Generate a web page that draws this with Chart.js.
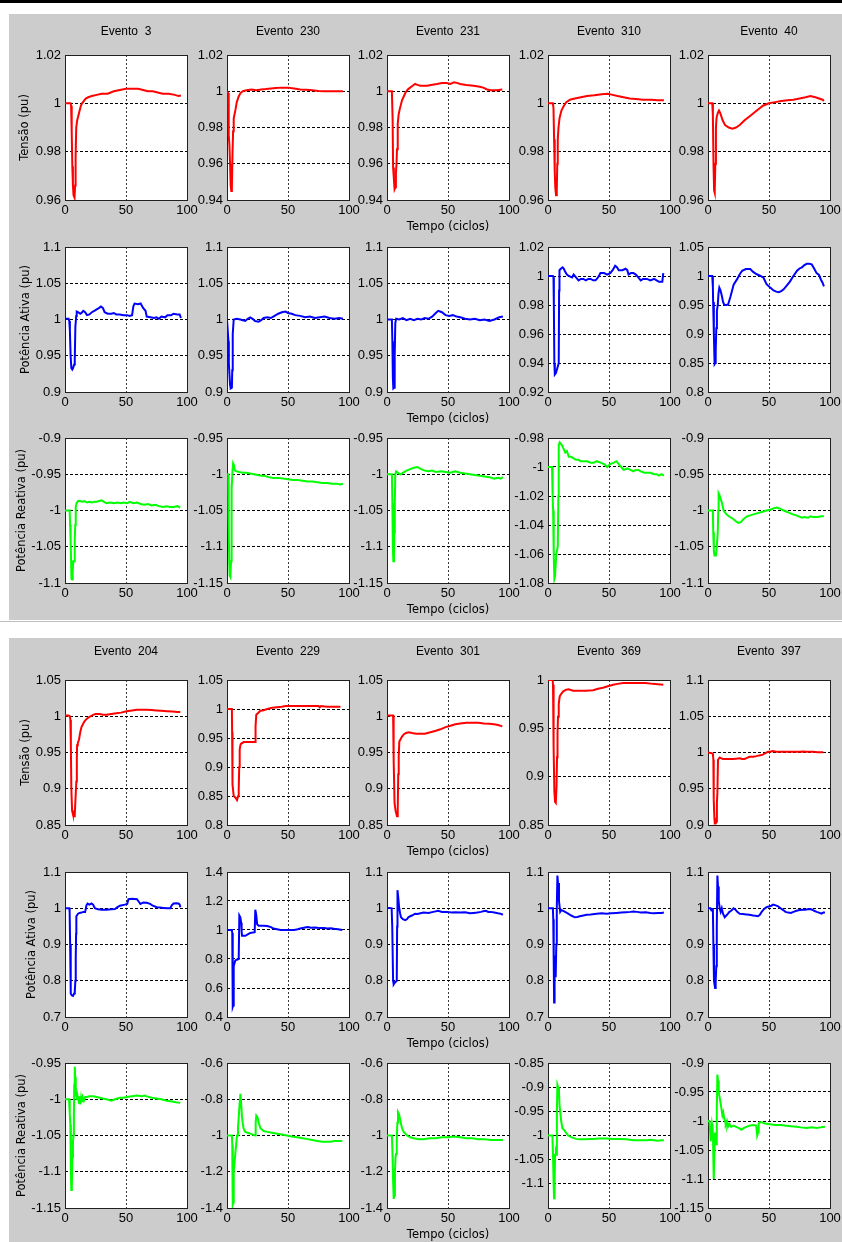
<!DOCTYPE html>
<html>
<head>
<meta charset="utf-8">
<script src="https://cdn.jsdelivr.net/npm/chart.js@4.4.0/dist/chart.umd.min.js"></script>
<style>
body { margin: 0; background: #fff; width: 842px; height: 1242px; position: relative; overflow: hidden; }
.faixa { position: absolute; background: #cccccc; }
canvas { position: absolute; }
</style>
</head>
<body>
<div style="position:absolute;left:0;top:0;width:842px;height:3px;background:#000"></div>
<div class="faixa" style="left:9px;top:14px;width:833px;height:606px"></div>
<div style="position:absolute;left:0;top:621px;width:842px;height:1px;background:#bdbdbd"></div>
<div class="faixa" style="left:9px;top:638px;width:833px;height:604px"></div>
<script>
// eventos de cada figura
var eventos1 = ['3', '230', '231', '310', '40'];
var eventos2 = ['204', '229', '301', '369', '397'];

// ---- figura 1: tensao (v), potencia ativa (p), potencia reativa (q) ----
var v3 = [[0,1],[4.5,1],[5,0.999],[5.5,0.988],[6,0.974],[6.5,0.966],[7,0.962],[7.8,0.961],[8.3,0.966],[8.7,0.978],[9.2,0.99],[10,0.993],[11,0.995],[12,0.997],[13,0.999],[14,1],[15.5,1.001],[17,1.002],[19,1.0025],[22,1.003],[26,1.0035],[30,1.004],[35,1.004],[40,1.005],[45,1.0055],[50,1.006],[55,1.006],[60,1.006],[64,1.0055],[68,1.005],[72,1.005],[76,1.0045],[80,1.004],[85,1.004],[90,1.0035],[93,1.003],[95,1.0032]];
var v230 = [[0,1],[1,0.999],[1.4,0.976],[2,0.97],[2.5,0.96],[3,0.948],[3.5,0.945],[4,0.947],[4.5,0.965],[5,0.978],[5.5,0.985],[7,0.99],[8,0.994],[9.5,0.997],[11,0.999],[13,1],[16,1.0005],[20,1.001],[24,1.0005],[28,1.001],[32,1.0012],[36,1.0015],[40,1.0018],[45,1.002],[50,1.002],[55,1.0015],[60,1.001],[65,1.0008],[70,1.0005],[75,1.0002],[80,1],[85,1],[90,1],[95,1]];
var v231 = [[0,1],[4,1],[4.6,0.985],[5,0.958],[5.6,0.952],[6.2,0.946],[6.8,0.947],[7.3,0.955],[7.8,0.96],[8.2,0.968],[8.8,0.982],[9.5,0.987],[10.4,0.99],[12.3,0.995],[15,0.999],[17,1.001],[19,1.002],[21,1.003],[23,1.004],[25,1.0035],[27.4,1.003],[30,1.003],[33,1.003],[36,1.0035],[41,1.004],[45,1.0045],[49,1.0045],[52,1.004],[55,1.005],[58,1.0045],[60,1.004],[65,1.0035],[71,1.003],[76,1.0025],[79,1.002],[82,1.001],[85,1.0005],[90,1.0005],[94.5,1.001]];
var v310 = [[0,1],[4,1],[4.5,0.998],[5,0.985],[5.5,0.972],[6,0.965],[6.6,0.962],[7.2,0.964],[7.6,0.975],[8,0.985],[8.6,0.99],[9.5,0.994],[11,0.997],[13,0.999],[15,1.0005],[18,1.0015],[22,1.002],[27,1.0025],[32,1.003],[38,1.0033],[44,1.0038],[49,1.004],[53,1.0035],[57,1.003],[62,1.0025],[67,1.002],[72,1.0018],[78,1.0015],[85,1.0015],[90,1.0013],[95,1.0013]];
var v40 = [[0,1],[3.5,1],[4,0.995],[4.5,0.975],[5,0.964],[5.5,0.963],[6,0.975],[6.5,0.99],[7,0.994],[8,0.996],[9,0.997],[10,0.996],[12,0.993],[14,0.991],[17,0.99],[20,0.9895],[23,0.99],[26,0.991],[30,0.993],[35,0.995],[40,0.997],[45,0.999],[50,1],[55,1.0005],[60,1.001],[65,1.0013],[70,1.0015],[75,1.002],[80,1.0025],[84,1.003],[88,1.0025],[91,1.002],[94,1.0015],[95,1.001]];

var p3 = [[0,1.001],[3,1.001],[3.5,0.998],[4,0.985],[4.6,0.95],[5.2,0.933],[6,0.931],[6.6,0.933],[7.5,0.938],[8,0.945],[8.5,0.99],[9.2,1.005],[9.6,1.011],[11,1.01],[12.5,1.008],[13.5,1.009],[15,1.012],[16.5,1.01],[18,1.006],[20,1.007],[22,1.01],[24,1.012],[26,1.014],[28,1.016],[29.5,1.018],[31,1.016],[32.5,1.01],[35,1.008],[38,1.008],[40,1.009],[42,1.007],[45,1.007],[48,1.006],[51,1.006],[53,1.005],[55,1.006],[56,1.018],[57,1.022],[60,1.021],[62,1.022],[64,1.016],[66,1.012],[67,1.004],[70,1.003],[73,1.002],[75,1.003],[77,1.001],[79,1.004],[82,1.003],[84,1.006],[87,1.006],[89,1.008],[92,1.007],[94,1.007],[95,1.002]];
var p230 = [[0,1],[0.8,1],[1.2,0.97],[1.5,0.94],[2,0.925],[2.5,0.91],[3,0.905],[4,0.906],[4.3,0.93],[4.7,0.98],[5.5,1.0],[8,1.001],[11,1],[13,0.999],[15,0.998],[17,1.001],[19,1.003],[21,1.001],[23,0.998],[26,0.997],[28,0.999],[30,1.002],[33,1.003],[36,1.002],[39,1.005],[42,1.008],[45,1.01],[48,1.011],[50,1.009],[53,1.008],[56,1.006],[60,1.005],[64,1.003],[68,1.004],[72,1.002],[76,1.003],[80,1.004],[84,1.002],[88,1.001],[92,1.002],[95,1.001]];
var p231 = [[0,1],[4,1],[4.4,0.97],[4.8,0.92],[5.2,0.905],[5.8,0.906],[6.3,0.95],[6.8,0.995],[7.5,1.001],[10,1.0],[13,1.002],[16,0.999],[19,1.001],[22,0.999],[25,1.001],[28,1.0],[31,1.002],[34,1.001],[37,1.004],[40,1.009],[42,1.012],[45,1.01],[48,1.006],[51,1.005],[54,1.006],[57,1.004],[60,1.003],[64,1.001],[68,1.0],[72,1.001],[76,0.999],[80,1.0],[84,0.998],[88,1.0],[92,1.003],[95,1.004]];
var p310 = [[0,1],[4,1],[4.5,0.999],[4.8,0.98],[5.2,0.94],[5.6,0.932],[6.5,0.933],[7.5,0.936],[8.8,0.94],[9.1,0.99],[9.4,1.004],[10.5,1.005],[12,1.006],[13,1.005],[14,1.003],[15.5,1.001],[17,1.0],[19.7,0.999],[21,1.001],[23,0.999],[25,0.997],[27,0.998],[29,0.998],[31,0.997],[33,0.998],[35,0.998],[37,0.997],[39,0.997],[41,0.999],[43,1.002],[46,1.002],[48.5,1.001],[51,1.002],[53,1.004],[55,1.007],[56.5,1.006],[58,1.004],[61,1.004],[63.5,1.005],[65,1.004],[66,1.001],[68,1.002],[70,1.002],[72,1.001],[74,0.999],[76,0.997],[78,0.998],[81,0.998],[84,0.997],[87,0.998],[89,0.997],[91,0.996],[93.7,0.996],[94.5,1.002]];
var p40 = [[0,1],[3.5,1],[4,0.98],[4.2,0.955],[4.8,0.9],[5.4,0.848],[6,0.85],[6.3,0.87],[6.8,0.91],[7.3,0.94],[8,0.95],[8.6,0.97],[9.3,0.98],[10.3,0.975],[11.4,0.965],[12.4,0.955],[13.4,0.95],[15,0.95],[16.5,0.951],[18.5,0.965],[21,0.985],[24,0.995],[26,1.003],[28,1.009],[31,1.012],[34.6,1.012],[37,1.007],[40,1.003],[43,1.0],[45.5,0.997],[48,0.986],[51,0.98],[53.7,0.975],[56,0.973],[58,0.972],[60,0.974],[62,0.977],[64,0.982],[67,0.99],[70,1.0],[73,1.009],[75,1.013],[77,1.015],[79,1.019],[81,1.021],[83,1.021],[85,1.02],[87,1.013],[89,1.005],[91,1.002],[92.5,0.994],[94,0.988],[95,0.982]];

var q3 = [[0,-1],[3.8,-1],[4.2,-1.02],[4.6,-1.04],[5,-1.07],[5.3,-1.094],[5.8,-1.095],[6.3,-1.085],[6.8,-1.07],[7.4,-1.07],[8,-1.04],[8.4,-1.02],[8.8,-0.995],[9.5,-0.99],[10.7,-0.987],[12,-0.987],[14,-0.988],[16,-0.987],[18,-0.989],[20,-0.988],[22,-0.989],[24,-0.988],[26,-0.988],[28,-0.987],[30,-0.986],[32,-0.988],[34,-0.99],[37,-0.989],[40,-0.99],[43,-0.989],[46,-0.99],[48,-0.989],[51,-0.99],[53,-0.988],[56,-0.99],[59,-0.989],[62,-0.991],[65,-0.992],[68,-0.991],[71,-0.993],[74,-0.992],[77,-0.994],[80,-0.995],[83,-0.994],[86,-0.995],[89,-0.995],[92,-0.994],[94.5,-0.996]];
var q230 = [[0,-1],[1,-1],[1.3,-1.06],[1.8,-1.12],[2.2,-1.14],[2.8,-1.142],[3.3,-1.12],[3.6,-1.06],[4,-1.02],[4.5,-0.995],[5,-0.985],[5.5,-0.987],[6.5,-0.995],[8,-0.996],[10,-0.997],[13,-0.998],[16,-0.998],[19,-0.999],[22,-1.0],[25,-1.001],[28,-1.002],[31,-1.002],[34,-1.004],[38,-1.005],[42,-1.005],[46,-1.006],[50,-1.007],[54,-1.008],[58,-1.008],[62,-1.009],[66,-1.01],[70,-1.01],[74,-1.011],[78,-1.012],[82,-1.012],[86,-1.013],[90,-1.013],[93,-1.014],[95,-1.013]];
var q231 = [[0,-1],[4,-1],[4.4,-1.04],[4.8,-1.1],[5.2,-1.12],[5.7,-1.115],[6,-1.08],[6.4,-1.04],[6.8,-1.0],[7.5,-0.996],[9,-0.998],[11,-1.0],[13,-0.998],[16,-0.995],[19,-0.993],[22,-0.991],[25,-0.99],[28,-0.993],[31,-0.995],[34,-0.996],[37,-0.995],[40,-0.997],[44,-0.996],[48,-0.997],[52,-0.998],[56,-0.996],[60,-0.998],[64,-0.999],[68,-1.0],[72,-1.001],[76,-1.002],[80,-1.003],[84,-1.004],[88,-1.006],[91,-1.005],[93,-1.006],[95,-1.004]];
var q310 = [[0,-1],[3.3,-1],[3.8,-1.02],[4.2,-1.03],[4.7,-1.06],[5.2,-1.077],[5.8,-1.075],[6.8,-1.06],[8,-1.055],[8.5,-1.02],[8.8,-0.985],[9.6,-0.983],[10.5,-0.984],[11.5,-0.985],[12.5,-0.987],[14.2,-0.99],[15.5,-0.989],[17,-0.993],[19,-0.993],[21,-0.994],[23,-0.995],[25,-0.995],[26.6,-0.996],[29,-0.996],[32,-0.996],[35,-0.997],[37.5,-0.997],[40,-0.996],[43,-0.997],[46,-0.998],[48.5,-1.0],[51,-0.998],[54,-0.997],[56,-0.996],[58,-0.998],[60,-1.0],[62,-1.002],[65,-1.001],[67.6,-1.002],[70,-1.003],[72,-1.002],[74,-1.002],[76,-1.003],[79,-1.004],[81.5,-1.004],[84,-1.004],[87,-1.005],[89,-1.005],[91,-1.006],[93,-1.005],[95,-1.006]];
var q40 = [[0,-1],[4,-1],[4.3,-1.03],[4.8,-1.055],[5.3,-1.062],[6.5,-1.062],[7.2,-1.05],[8,-1.03],[8.4,-1.0],[8.7,-0.976],[9.3,-0.978],[10.6,-0.985],[11.5,-0.99],[12.8,-1.0],[15,-1.005],[17,-1.008],[19,-1.01],[21,-1.012],[23,-1.015],[25,-1.017],[27,-1.016],[29,-1.012],[32,-1.008],[36,-1.006],[40,-1.004],[44,-1.002],[48,-1.0],[51,-0.999],[53.7,-0.997],[56,-0.996],[58,-0.997],[60,-0.998],[62,-1.0],[65,-1.002],[69,-1.005],[73,-1.007],[77,-1.01],[79,-1.009],[82,-1.01],[84,-1.008],[86,-1.009],[90,-1.009],[93,-1.008],[95,-1.008]];

// ---- figura 2 ----
var v204 = [[0,1.001],[3,1.001],[4,1.0],[4.4,0.995],[4.8,0.96],[5.2,0.9],[5.8,0.87],[6.5,0.865],[7.5,0.862],[8,0.864],[8.7,0.89],[9.3,0.91],[9.7,0.94],[9.9,0.96],[10.5,0.963],[11.5,0.968],[12.5,0.978],[13.5,0.985],[15,0.99],[16,0.993],[17.5,0.996],[19,0.998],[21,1.0],[23,1.002],[25,1.003],[28.5,1.003],[31,1.002],[34,1.002],[38,1.003],[42,1.004],[46,1.005],[50.5,1.007],[55,1.008],[59,1.009],[63,1.009],[67,1.009],[71,1.0085],[75,1.008],[79,1.0075],[83.5,1.007],[88,1.0065],[92,1.006],[94.5,1.006]];
var v229 = [[0,1],[4,1],[4.2,0.96],[4.5,0.87],[5.5,0.85],[7,0.847],[8.2,0.843],[9.2,0.85],[9.6,0.86],[10,0.9],[10.4,0.93],[11,0.938],[11.5,0.94],[13.7,0.943],[17,0.943],[20,0.943],[23,0.943],[23.4,0.97],[24,0.99],[25.5,0.993],[27.4,0.997],[30,0.998],[33,1.0],[37,1.002],[41,1.003],[45,1.004],[48,1.005],[55,1.005],[60,1.005],[66,1.005],[72,1.005],[75,1.005],[76,1.003],[77,1.005],[82,1.004],[88,1.004],[93,1.004]];
var v301 = [[0,1.001],[5,1.001],[5.3,0.99],[5.6,0.94],[6.2,0.88],[7,0.87],[8.2,0.862],[8.8,0.87],[9.2,0.92],[9.6,0.945],[10.1,0.965],[11,0.968],[12.3,0.972],[13.7,0.975],[15.5,0.977],[17.8,0.978],[20.5,0.977],[24,0.976],[27.4,0.976],[31,0.976],[35.6,0.978],[40,0.98],[43.8,0.982],[48,0.985],[52,0.987],[56,0.989],[60,0.99],[65,0.991],[71,0.991],[75,0.991],[79.4,0.99],[84,0.9895],[87.7,0.989],[91,0.988],[94.5,0.986]];
var v369 = [[0,1],[3.8,1],[4.1,0.995],[4.6,0.93],[5.2,0.885],[5.8,0.874],[6.4,0.873],[7,0.89],[7.4,0.92],[7.8,0.945],[8.2,0.962],[8.8,0.975],[9.6,0.983],[10.5,0.985],[12.3,0.988],[13.5,0.989],[15,0.99],[17,0.9905],[20.5,0.989],[26,0.989],[31,0.989],[37,0.9895],[41,0.991],[45,0.992],[49,0.9935],[53.4,0.995],[57,0.996],[61.6,0.997],[66,0.997],[70,0.997],[75,0.997],[80,0.997],[86,0.996],[90,0.9955],[94.5,0.995]];
var v397 = [[0,1],[3,0.999],[4,0.998],[4.4,0.99],[4.7,0.935],[5.2,0.91],[5.6,0.902],[6.3,0.902],[6.8,0.905],[7.3,0.93],[7.7,0.945],[8.2,0.99],[9.6,0.993],[11,0.992],[12.3,0.991],[15,0.991],[18,0.991],[20.5,0.991],[23,0.9915],[26,0.992],[28,0.991],[30,0.991],[32,0.9925],[34,0.994],[37,0.994],[39.7,0.995],[42,0.996],[45,0.997],[47,0.999],[49.3,1.001],[51,1.001],[53,1.002],[56,1.001],[61.6,1.001],[66,1.0012],[70,1.001],[75,1.001],[78,1.0015],[80.8,1.001],[86,1.001],[90,1.0005],[94.5,1.0005]];

var p204 = [[0,1],[3.5,1],[3.8,0.99],[4.2,0.9],[4.7,0.765],[5.5,0.76],[6.6,0.758],[7.5,0.765],[8,0.77],[8.5,0.8],[8.8,0.86],[9.1,0.93],[9.3,0.978],[10.7,0.985],[12,0.987],[13.5,0.988],[15,0.99],[16.5,0.99],[17.6,1.008],[18.5,1.013],[20,1.01],[21.7,1.013],[23,1.01],[24.5,1.0],[27,0.997],[30,0.996],[34,0.996],[38,0.997],[41,0.998],[43,1.003],[45,1.007],[49,1.01],[51,1.012],[52,1.025],[55,1.026],[59,1.025],[60.5,1.018],[61.8,1.012],[64.3,1.016],[67,1.015],[69.8,1.012],[72,1.007],[75.3,1.003],[78,1.002],[80.8,1.001],[84,1.0],[86.3,1.0],[87.5,1.008],[89,1.013],[91,1.014],[93,1.013],[94,1.01],[94.5,1.003]];
var p229 = [[0,1],[4,1],[4.3,0.98],[4.7,0.47],[5.1,0.48],[5.5,0.75],[6.8,0.79],[8,0.795],[9.6,0.8],[10.1,1.1],[11,1.085],[11.6,1.05],[12,0.99],[12.3,0.96],[15,0.96],[17,0.97],[19,0.98],[22.7,0.985],[23.2,1.14],[24,1.1],[24.7,1.04],[26,1.03],[30,1.03],[33,1.028],[36,1.02],[38,1.01],[41,1.005],[44,1.0],[50,1.0],[55,1.0],[58,1.005],[60,1.01],[63,1.015],[66,1.02],[69,1.015],[72.6,1.018],[76,1.013],[80,1.013],[82,1.01],[85,1.012],[87.7,1.008],[91,1.005],[94.5,1.0]];
var p301 = [[0,1],[2,1.001],[3.8,1.0],[4.3,0.95],[5,0.8],[5.5,0.79],[6.5,0.795],[8,0.8],[8.3,0.95],[8.6,1.05],[9.2,1.03],[10,1.0],[10.8,0.985],[11.5,0.975],[13,0.97],[15,0.967],[16.5,0.97],[17.5,0.975],[19,0.978],[20.5,0.98],[23,0.985],[25,0.984],[27.4,0.986],[30,0.988],[34,0.987],[38,0.99],[42,0.993],[45,0.99],[49.5,0.99],[53,0.988],[56,0.989],[60,0.988],[64,0.989],[68,0.986],[71,0.987],[74,0.988],[77,0.99],[79,0.992],[81,0.993],[83,0.99],[85,0.99],[88,0.988],[91,0.986],[93,0.985],[95,0.982]];
var p369 = [[0,1],[4,1],[4.3,0.97],[4.7,0.85],[5,0.74],[5.3,0.8],[5.5,0.87],[6,0.86],[6.3,0.81],[6.8,0.9],[7.2,1.0],[7.7,1.09],[8.2,1.07],[9,1.02],[9.5,1.005],[10,0.99],[11,0.995],[12.4,0.993],[14,0.99],[16.5,0.985],[19,0.98],[22,0.975],[24,0.976],[26,0.978],[29,0.98],[31.7,0.982],[35,0.983],[40,0.985],[44,0.986],[48,0.985],[52,0.986],[56,0.987],[60,0.988],[64,0.989],[67.5,0.99],[70,0.991],[73,0.99],[76,0.988],[80,0.989],[84,0.987],[86.8,0.986],[90,0.987],[93,0.987],[95,0.988]];
var p397 = [[0,1],[2,1.0],[2.7,0.995],[3.4,0.998],[4,1.0],[4.4,0.9],[4.9,0.8],[5.8,0.78],[6.3,0.8],[6.8,0.84],[7.2,0.95],[7.7,1.09],[8.2,1.06],[8.8,1.02],[9.6,1.0],[10.4,0.99],[11.3,1.0],[12.3,0.985],[13.7,0.975],[15,0.98],[16.4,0.985],[17.5,0.99],[19,0.993],[21,1.0],[22.5,0.996],[24,0.99],[26,0.985],[28.5,0.984],[31.5,0.983],[34,0.982],[37,0.98],[39,0.979],[41,0.978],[42.5,0.982],[44,0.99],[46,0.998],[48,1.003],[50,1.005],[52,1.007],[53.4,1.01],[55.5,1.008],[57.5,1.005],[59.5,1.0],[61.6,0.995],[63.5,0.99],[65.7,0.988],[68,0.987],[70,0.99],[72.6,0.993],[75,0.995],[78,0.996],[80,0.996],[81.5,0.997],[83.6,0.998],[85.5,0.996],[87,0.993],[89,0.99],[91,0.988],[93,0.985],[94.5,0.988],[95.9,0.988]];

var q204 = [[0,-1],[3.3,-1],[3.9,-1.02],[4.4,-1.035],[4.8,-1.1],[5.2,-1.125],[5.6,-1.12],[6,-1.08],[6.5,-1.06],[6.9,-1.05],[7.3,-1.02],[7.6,-0.98],[8,-0.955],[8.4,-0.97],[8.8,-0.99],[9.3,-0.995],[9.9,-1.0],[10.5,-0.997],[11.5,-1.005],[12.1,-0.996],[12.6,-1.007],[13.2,-0.998],[13.8,-1.004],[14.5,-0.997],[15.5,-1.002],[16.5,-0.997],[18,-0.997],[20,-0.996],[23,-0.996],[26,-0.997],[28.5,-0.998],[31,-0.999],[34,-1.0],[36,-1.001],[38,-1.002],[41,-1.0],[45,-0.998],[48,-0.998],[50.5,-0.997],[55,-0.996],[59,-0.995],[63,-0.996],[65,-0.995],[67,-0.996],[71,-0.998],[75,-0.999],[79,-1.0],[83.5,-1.002],[88,-1.003],[91,-1.004],[94.5,-1.005]];
var q229 = [[0,-1],[4,-1],[4.3,-1.05],[4.7,-1.38],[5.1,-1.37],[5.5,-1.2],[6.2,-1.15],[6.8,-1.1],[7.5,-1.05],[8.2,-1.0],[9,-0.96],[9.6,-0.9],[10.3,-0.83],[11,-0.77],[11.6,-0.82],[12.3,-0.9],[13.5,-0.96],[15,-0.98],[17,-0.985],[19,-0.99],[21,-0.995],[23,-1.0],[23.5,-0.93],[24,-0.89],[25,-0.9],[26,-0.93],[27.4,-0.96],[30,-0.975],[33,-0.98],[37,-0.985],[41,-0.99],[45,-0.995],[49,-1.0],[53,-1.005],[57.5,-1.01],[62,-1.015],[66,-1.02],[70,-1.025],[74,-1.03],[78,-1.035],[82,-1.035],[85,-1.035],[88,-1.03],[91,-1.03],[94.5,-1.03]];
var q301 = [[0,-1],[4,-1],[4.5,-1.1],[5,-1.25],[5.5,-1.35],[6,-1.33],[6.5,-1.2],[7,-1.12],[7.5,-1.1],[8,-1.02],[8.5,-0.93],[9,-0.87],[9.8,-0.88],[11,-0.92],[12.3,-0.96],[13.7,-0.98],[15,-0.99],[16.4,-1.0],[19,-1.01],[22,-1.015],[26,-1.02],[30,-1.02],[35,-1.015],[40,-1.015],[45,-1.01],[50,-1.01],[55,-1.005],[60,-1.01],[65,-1.015],[70,-1.015],[75,-1.02],[80,-1.02],[85,-1.025],[90,-1.025],[95,-1.025]];
var q369 = [[0,-1],[3.6,-1],[4.1,-1.04],[4.6,-1.1],[5,-1.13],[5.4,-1.1],[5.8,-1.04],[6.5,-1.035],[7,-1.04],[7.3,-0.95],[7.7,-0.895],[8.3,-0.9],[9,-0.91],[9.5,-0.94],[10,-0.95],[10.8,-0.97],[11.8,-0.985],[13.7,-0.99],[15,-0.995],[16.5,-1.0],[18.5,-1.003],[20.7,-1.005],[23,-1.007],[26,-1.008],[30,-1.008],[34,-1.007],[37,-1.007],[42,-1.006],[48,-1.006],[53,-1.007],[59,-1.007],[64,-1.008],[70,-1.01],[75,-1.01],[81,-1.01],[84,-1.009],[86.8,-1.01],[90,-1.011],[93,-1.01],[95,-1.01]];
var q397 = [[0,-1],[1,-1.0],[1.4,-1.005],[2.2,-1.035],[2.8,-1.02],[3.3,-1.005],[3.7,-1.01],[4.1,-1.03],[4.5,-1.07],[4.9,-1.1],[5.3,-1.05],[5.8,-1.02],[6.2,-1.03],[6.6,-1.04],[7.2,-0.98],[7.7,-0.92],[8.2,-0.93],[8.8,-0.95],[9.6,-0.96],[10.4,-0.97],[11.1,-0.98],[11.8,-0.99],[12.5,-0.985],[13.2,-0.995],[14,-1.0],[14.5,-1.005],[15.5,-1.0],[16.4,-1.01],[17.5,-1.005],[19,-1.01],[21,-1.008],[23,-1.01],[25,-1.012],[27.4,-1.015],[29.5,-1.012],[31.5,-1.01],[34,-1.008],[37,-1.007],[39.5,-1.008],[40.3,-1.025],[41,-1.02],[41.5,-1.005],[42.5,-1.002],[44,-1.002],[46,-1.004],[49.3,-1.005],[52,-1.006],[56,-1.007],[60,-1.007],[64,-1.008],[68,-1.009],[72.6,-1.01],[76,-1.011],[80.8,-1.012],[85,-1.011],[89,-1.012],[92,-1.011],[95.9,-1.01]];

// marcas do eixo y de cada linha de graficos
var tk940 = [0.94, 0.96, 0.98, 1, 1.02];
var tk960 = [0.96, 0.98, 1, 1.02];
var tkP1 = [0.9, 0.95, 1, 1.05, 1.1];
var tkQ1 = [-1.1, -1.05, -1, -0.95, -0.9];
var tkQ115 = [-1.15, -1.1, -1.05, -1, -0.95];
var tkV85 = [0.85, 0.9, 0.95, 1, 1.05];
var tkP7 = [0.7, 0.8, 0.9, 1, 1.1];
var tkQ14 = [-1.4, -1.2, -1, -0.8, -0.6];

var xTicks = [0, 50, 100];

var linhas = [
  { series: [v3, v230, v231, v310, v40], ticks: [tk960, tk940, tk940, tk960, tk960] },
  { series: [p3, p230, p231, p310, p40], ticks: [tkP1, tkP1, tkP1, [0.92, 0.94, 0.96, 0.98, 1, 1.02], [0.8, 0.85, 0.9, 0.95, 1, 1.05]] },
  { series: [q3, q230, q231, q310, q40], ticks: [tkQ1, tkQ115, tkQ115, [-1.08, -1.06, -1.04, -1.02, -1, -0.98], tkQ1] },
  { series: [v204, v229, v301, v369, v397], ticks: [tkV85, [0.8, 0.85, 0.9, 0.95, 1, 1.05], tkV85, [0.85, 0.9, 0.95, 1], [0.9, 0.95, 1, 1.05, 1.1]] },
  { series: [p204, p229, p301, p369, p397], ticks: [tkP7, [0.4, 0.6, 0.8, 1, 1.2, 1.4], tkP7, tkP7, tkP7] },
  { series: [q204, q229, q301, q369, q397], ticks: [tkQ115, tkQ14, tkQ14, [-1.1, -1.05, -1, -0.95, -0.9, -0.85], [-1.15, -1.1, -1.05, -1, -0.95, -0.9]] }
];
// eixo do evento 369 (reativa) desce abaixo da ultima marca
var limQ369 = [-1.15, -0.85];

var rotulos = ['Tensão (pu)', 'Potência Ativa (pu)', 'Potência Reativa (pu)'];
var cores = ['#ff0000', '#0000ff', '#00ff00'];

// posicao das areas de plotagem na pagina
var colX = [65, 227, 387, 548, 708];
var rowY = [55, 247, 438, 680, 872, 1063];
var rotX = [25.5, 26, 22, 26, 32, 22];
var W = 122, H = 145, YW = 52, YW0 = 56, RP = 16, XH = 36, TOPO = 12, TOPO_T = 40;

var fonteTick = { family: "'Liberation Sans', Arial, sans-serif", size: 13 };
var fonteRot = { family: "'DejaVu Sans', sans-serif", size: 11.5 };

var caixa = {
  id: 'caixa',
  beforeDraw: function(chart) {
    var a = chart.chartArea, c = chart.ctx;
    c.save();
    c.fillStyle = '#fff';
    c.fillRect(a.left, a.top, a.right - a.left, a.bottom - a.top);
    c.restore();
  },
  beforeDatasetsDraw: function(chart) {
    var a = chart.chartArea, c = chart.ctx;
    c.save();
    c.strokeStyle = '#202020';
    c.lineWidth = 1;
    c.strokeRect(a.left + 0.5, a.top + 0.5, a.right - a.left, a.bottom - a.top);
    c.restore();
  }
};

function fmt(v) {
  return String(Math.round(v * 100) / 100);
}

function grafico(r, c) {
  var linha = linhas[r];
  var q = r % 3;
  var comTitulo = q == 0;
  var yw = c == 0 ? YW0 : YW;
  var topo = comTitulo ? TOPO_T : TOPO;
  var tks = linha.ticks[c];
  var lim = (r == 5 && c == 3) ? limQ369 : [tks[0], tks[tks.length - 1]];
  var evento = (r < 3 ? eventos1 : eventos2)[c];
  var gap = r < 3 ? 16.4 : 21.1;

  var cv = document.createElement('canvas');
  cv.width = yw + W + RP;
  cv.height = topo + H + XH;
  cv.style.left = (colX[c] - yw) + 'px';
  cv.style.top = (rowY[r] - topo) + 'px';
  document.body.appendChild(cv);

  new Chart(cv, {
    type: 'line',
    data: {
      datasets: [{
        data: linha.series[c],
        borderColor: cores[q],
        borderWidth: 2,
        pointRadius: 0,
        tension: 0,
        fill: false
      }]
    },
    options: {
      responsive: false,
      animation: false,
      devicePixelRatio: 1,
      events: [],
      layout: { padding: { left: 0, right: RP, top: comTitulo ? topo - 14.4 - gap : topo, bottom: 0 } },
      plugins: {
        legend: { display: false },
        tooltip: { enabled: false },
        title: {
          display: comTitulo,
          text: 'Evento  ' + evento,
          fullSize: false,
          color: '#000',
          font: { family: "'Liberation Sans', Arial, sans-serif", size: 12, weight: 'normal' },
          padding: { top: 0, bottom: gap }
        }
      },
      scales: {
        x: {
          type: 'linear', min: 0, max: 100,
          afterFit: function(s) { s.height = XH; },
          afterBuildTicks: function(s) { s.ticks = xTicks.map(function(v) { return { value: v }; }); },
          ticks: { color: '#000', font: fonteTick, padding: 3, autoSkip: false, maxRotation: 0 },
          grid: { color: '#3a3a3a', lineWidth: 1, drawTicks: false },
          border: { display: false, dash: [2, 2] },
          title: { display: c == 2, text: 'Tempo (ciclos)', color: '#000', font: fonteRot, padding: { top: 0, bottom: 1.6 } }
        },
        y: {
          min: lim[0], max: lim[1],
          afterFit: function(s) { s.width = yw; },
          afterBuildTicks: function(s) { s.ticks = tks.map(function(v) { return { value: v }; }); },
          ticks: { color: '#000', font: fonteTick, padding: 4, autoSkip: false, callback: function(v) { return fmt(v); } },
          grid: { color: '#000', lineWidth: 1, drawTicks: false },
          border: { display: false, dash: [3, 2] },
          title: { display: c == 0, text: rotulos[q], color: '#000', font: fonteRot, padding: { top: rotX[r] - (colX[0] - YW0) - 6.9, bottom: 0 } }
        }
      }
    },
    plugins: [caixa]
  });
}

for (var r = 0; r < 6; r++) {
  for (var c = 0; c < 5; c++) {
    grafico(r, c);
  }
}
</script>
</body>
</html>
